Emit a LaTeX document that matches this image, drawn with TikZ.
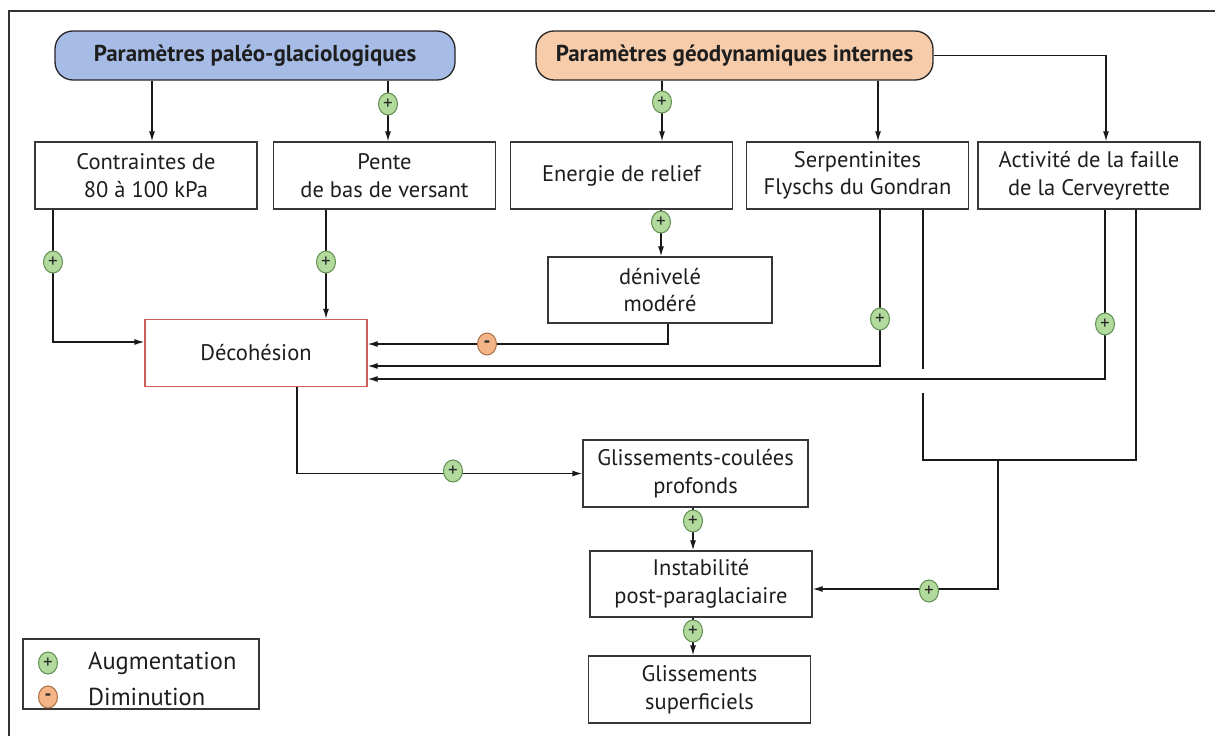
\documentclass[tikz,border=0pt]{standalone}
\usepackage{fontspec}
\setmainfont{PT Sans}
\usetikzlibrary{arrows.meta,shapes.geometric,calc}
\definecolor{pillblue}{RGB}{166,188,230}
\definecolor{pillorange}{RGB}{247,204,170}
\definecolor{plusfill}{RGB}{178,218,156}
\definecolor{plusdraw}{RGB}{95,140,80}
\definecolor{minusfill}{RGB}{243,180,135}
\definecolor{minusdraw}{RGB}{170,110,70}
\definecolor{decred}{RGB}{205,95,90}
\definecolor{boxline}{RGB}{55,55,55}
\definecolor{txt}{RGB}{30,30,30}
\begin{document}
\begin{tikzpicture}[x=1pt,y=-1pt,
  box/.style={draw=boxline, line width=1.3pt, fill=white, minimum width=222pt, minimum height=67pt, inner sep=0pt, align=center, font=\fontsize{22.5}{27.5}\selectfont, text=txt},
  pill/.style={draw=black!85, line width=1.3pt, rounded corners=18pt, minimum width=400pt, minimum height=49pt, inner sep=0pt, font=\fontsize{23}{26}\selectfont\bfseries, text=txt},
  conn/.style={line width=1.3pt, draw=black!90},
  arr/.style={conn, -{Latex[length=10pt,width=6pt]}},
  sign/.style={ellipse, line width=1pt, minimum width=19pt, minimum height=22pt, inner sep=0pt, font=\fontsize{19}{19}\selectfont, text=black!85},
  plus/.style={sign, draw=plusdraw, fill=plusfill},
  minus/.style={sign, draw=minusdraw, fill=minusfill, font=\fontsize{19}{19}\selectfont\bfseries},
  lbl/.style={anchor=west, inner sep=0pt, font=\fontsize{24.5}{28}\selectfont, text=txt}
]
\fill[white] (0,0) rectangle (1215,736);
\useasboundingbox (0,0) rectangle (1215,736);
\draw[line width=1.3pt, black!80] (1215,11) -- (9,11) -- (9,736);

% nodes
\node[pill, fill=pillblue] (P1) at (255,55.5) {Paramètres paléo-glaciologiques};
\node[pill, fill=pillorange, minimum width=397pt] (P2) at (734.5,55.5) {Paramètres géodynamiques internes};
\node[box] (A) at (146,175.5) {Contraintes de\\80 à 100 kPa};
\node[box] (B) at (384.5,175.5) {Pente\\de bas de versant};
\node[box] (C) at (621.5,175.5) {Energie de relief};
\node[box] (D) at (857.5,175.5) {Serpentinites\\Flyschs du Gondran};
\node[box] (E) at (1089,175.5) {Activité de la faille\\de la Cerveyrette};
\node[box, minimum width=224pt, minimum height=66pt] (N) at (660,290) {dénivelé\\modéré};
\node[box, draw=decred] (Dec) at (256,353) {Décohésion};
\node[box, minimum width=225pt] (G) at (695.5,473.5) {Glissements-coulées\\profonds};
\node[box, minimum height=66pt] (I) at (701,584) {Instabilité\\post-paraglaciaire};
\node[box] (S) at (699.5,689.5) {Glissements\\superficiels};

% connectors
\draw[arr] ([xshift=6pt]A.north |- P1.south) -- ([xshift=6pt]A.north);
\draw[arr] ([xshift=3.5pt]B.north |- P1.south) -- ([xshift=3.5pt]B.north);
\draw[arr] ([xshift=40.5pt]C.north |- P2.south) -- ([xshift=40.5pt]C.north);
\draw[arr] ([xshift=20.5pt]D.north |- P2.south) -- ([xshift=20.5pt]D.north);
\draw[arr] (P2.east) -| ([xshift=17pt]E.north);
\draw[arr] ([xshift=1pt]N.north |- C.south) -- ([xshift=1pt]N.north);
\draw[arr] ([xshift=-93pt]A.south) |- ([yshift=11pt]Dec.west);
\draw[arr] ([xshift=70pt]Dec.north |- B.south) -- ([xshift=70pt]Dec.north);
\draw[arr] ([xshift=8pt]N.south) |- ([yshift=9pt]Dec.east);
\draw[arr] ([xshift=22.5pt]D.south) |- ([yshift=-13pt]Dec.east);
\draw[arr] ([xshift=16pt]E.south) |- ([yshift=-26pt]Dec.east);
\coordinate (br1) at (923,369);
\coordinate (br2) at (923,393);
\coordinate (j) at (998,460);
\draw[conn] ([xshift=65.5pt]D.south) -- (br1);
\draw[conn] (br2) |- (j) -| ([xshift=47pt]E.south);
\draw[arr] (j) |- ([yshift=-5pt]I.east);
\draw[arr] ([xshift=41pt]Dec.south) |- (G.west);
\draw[arr] ([xshift=-2.5pt]G.south) -- ([xshift=-2.5pt]G.south |- I.north);
\draw[arr] ([xshift=-8pt]I.south) -- ([xshift=-8pt]I.south |- S.north);

% signs
\node[plus] (s1) at (388,104) {+};
\node[plus] (s2) at (662,102) {+};
\node[plus] (s3) at (661,222) {+};
\node[plus] (s4) at (53,262) {+};
\node[plus] (s5) at (326,262) {+};
\node[minus] (s6) at (487,344) {-};
\node[plus] (s7) at (880,319) {+};
\node[plus] (s8) at (1105,324) {+};
\node[plus] (s9) at (453,471) {+};
\node[plus] (s10) at (693,521) {+};
\node[plus] (s11) at (693,631) {+};
\node[plus] (s12) at (929,591) {+};

% legend
\node[draw=boxline, line width=1.3pt, minimum width=236pt, minimum height=70pt, inner sep=0pt] (L) at (141,674) {};
\node[plus] (lp) at (48,663) {+};
\node[minus] (lm) at (48,697) {-};
\node[lbl] (lt1) at (88,663) {Augmentation};
\node[lbl] (lt2) at (88,697) {Diminution};
\end{tikzpicture}
\end{document}
